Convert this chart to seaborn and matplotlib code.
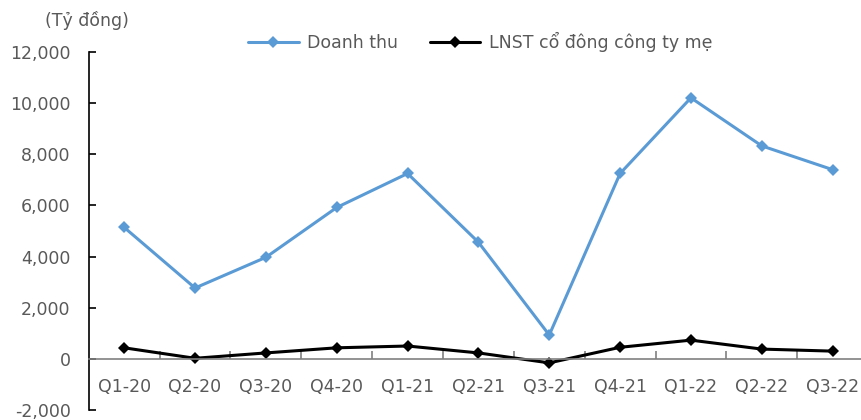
import numpy as np
import pandas as pd
import matplotlib
matplotlib.use('Agg')
import matplotlib.pyplot as plt
import seaborn as sns

quarters = ['Q1-20', 'Q2-20', 'Q3-20', 'Q4-20', 'Q1-21', 'Q2-21',
            'Q3-21', 'Q4-21', 'Q1-22', 'Q2-22', 'Q3-22']
doanh_thu = [5140, 2770, 3970, 5920, 7250, 4560, 930, 7250, 10210, 8330, 7400]
lnst = [430, 20, 230, 430, 500, 230, -160, 450, 730, 380, 300]
series_names = ['Doanh thu', 'LNST cổ đông công ty mẹ']
y_ticks = [-2000, 0, 2000, 4000, 6000, 8000, 10000, 12000]

df = pd.DataFrame({
    'quarter': quarters * 2,
    'x': list(range(len(quarters))) * 2,
    'value': doanh_thu + lnst,
    'series': [series_names[0]] * len(quarters) + [series_names[1]] * len(quarters),
})

sns.set_style('white')
plt.rcParams['font.family'] = ['DejaVu Sans']
text_color = '#595959'

fig = plt.figure(figsize=(8.62, 4.2), dpi=100)
ax = fig.add_axes([0.103, 0.024, 0.904, 0.852])

palette = {series_names[0]: '#5B9BD5', series_names[1]: '#000000'}
sns.lineplot(data=df, x='x', y='value', hue='series', palette=palette,
             marker='D', markersize=6.5, markeredgewidth=0, linewidth=2.2,
             ax=ax, legend=False)

ax.set_xlim(-0.5, 10.5)
ax.set_ylim(-2000, 12000)
ax.set_yticks(y_ticks)
ax.set_yticklabels([f'{v:,}' for v in y_ticks], fontsize=12.5, color=text_color)
ax.tick_params(axis='y', left=True, direction='in', length=5, width=1.2,
               color='black', pad=13)

# x axis drawn at zero, ticks between categories
ax.spines['bottom'].set_position(('data', 0))
ax.spines['bottom'].set_color('#808080')
ax.spines['bottom'].set_linewidth(1.2)
ax.spines['top'].set_visible(False)
ax.spines['right'].set_visible(False)
ax.spines['left'].set_color('black')
ax.spines['left'].set_linewidth(1.2)
ax.set_xticks(np.arange(0.5, 10.5, 1))
ax.set_xticklabels([])
ax.tick_params(axis='x', which='major', bottom=True, direction='in', length=6,
               width=1.2, color='#808080')
ax.set_xticks(np.arange(len(quarters)), minor=True)
ax.set_xticklabels(quarters, minor=True, fontsize=12.5, color=text_color)
ax.tick_params(axis='x', which='minor', bottom=True, length=0, pad=14)
ax.set_xlabel('')
ax.set_ylabel('')
ax.grid(False)

fig.text(0.052, 0.952, '(Tỷ đồng)', fontsize=12.5, color=text_color, va='center')

handles = [plt.Line2D([], [], color=palette[n], marker='D', markersize=6.5,
                      markeredgewidth=0, linewidth=2.2) for n in series_names]
fig.legend(handles, series_names, loc='center', bbox_to_anchor=(0.557, 0.9),
           ncol=2, frameon=False, fontsize=12.5, labelcolor=text_color,
           handlelength=2.9, columnspacing=1.8, handletextpad=0.5)

fig.savefig('out.png', dpi=100)
